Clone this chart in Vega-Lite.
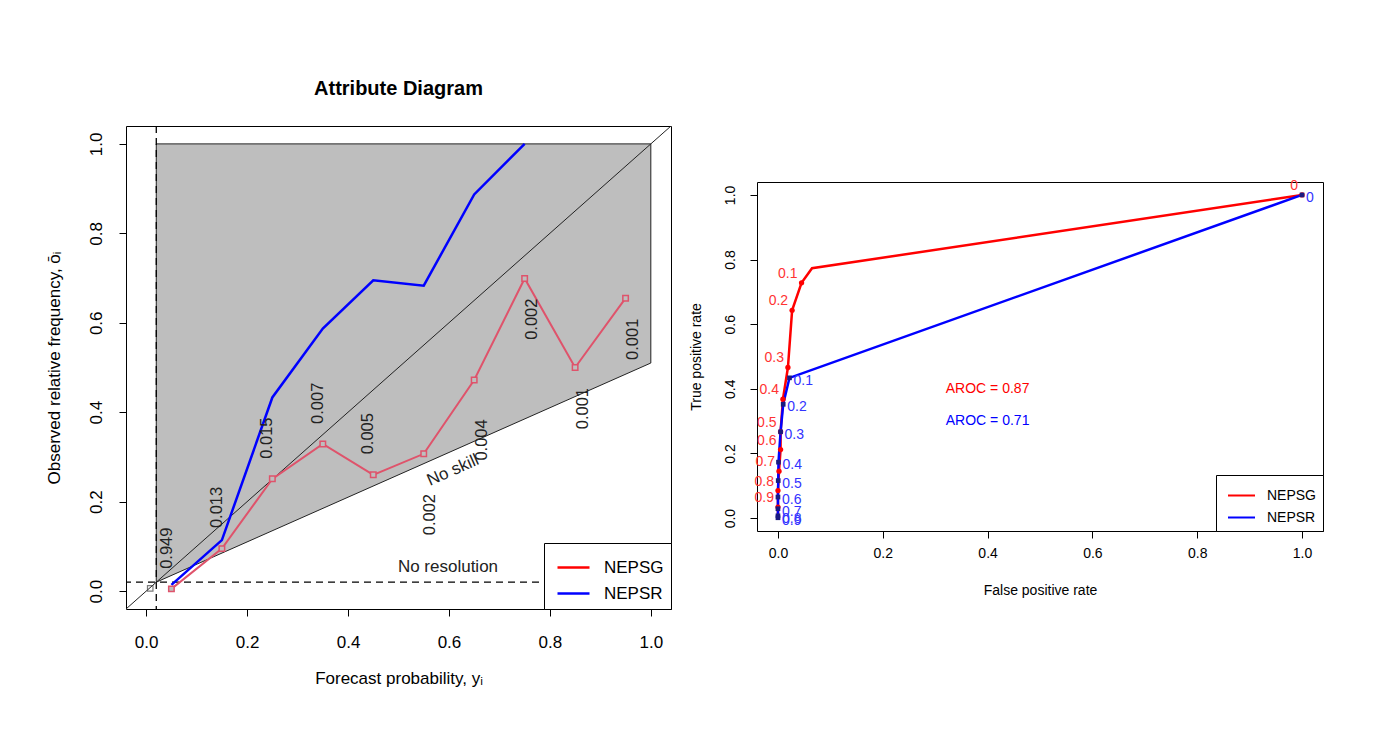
{
  "$schema": "https://vega.github.io/schema/vega-lite/v6.json",
  "padding": {"left": 44, "top": 78, "right": 0, "bottom": 0},
  "background": "white",
  "datasets": {
    "attr_area": [{"x": 0.02, "lo": 0.02, "hi": 1}, {"x": 1, "lo": 0.51, "hi": 1}],
    "attr_obar": [{"obar": 0.02}],
    "attr_diag": [{"x": -0.04, "y": -0.04}, {"x": 1.04, "y": 1.04}],
    "attr_nepsr": [
      {"series": "NEPSR", "x": 0.05, "y": 0.014},
      {"series": "NEPSR", "x": 0.15, "y": 0.114},
      {"series": "NEPSR", "x": 0.25, "y": 0.433},
      {"series": "NEPSR", "x": 0.35, "y": 0.587},
      {"series": "NEPSR", "x": 0.45, "y": 0.695},
      {"series": "NEPSR", "x": 0.55, "y": 0.683},
      {"series": "NEPSR", "x": 0.65, "y": 0.887},
      {"series": "NEPSR", "x": 0.75, "y": 1.0}
    ],
    "attr_nepsg": [
      {"x": 0.05, "y": 0.005},
      {"x": 0.15, "y": 0.095},
      {"x": 0.25, "y": 0.251},
      {"x": 0.35, "y": 0.329},
      {"x": 0.45, "y": 0.26},
      {"x": 0.55, "y": 0.307},
      {"x": 0.65, "y": 0.472},
      {"x": 0.75, "y": 0.699},
      {"x": 0.85, "y": 0.5},
      {"x": 0.95, "y": 0.655}
    ],
    "attr_first": [{"x": 0.008, "y": 0.006}],
    "attr_labels": [
      {"x": 0.041, "y": 0.096, "label": "0.949"},
      {"x": 0.14, "y": 0.187, "label": "0.013"},
      {"x": 0.239, "y": 0.342, "label": "0.015"},
      {"x": 0.34, "y": 0.42, "label": "0.007"},
      {"x": 0.44, "y": 0.352, "label": "0.005"},
      {"x": 0.562, "y": 0.171, "label": "0.002"},
      {"x": 0.665, "y": 0.338, "label": "0.004"},
      {"x": 0.764, "y": 0.608, "label": "0.002"},
      {"x": 0.866, "y": 0.408, "label": "0.001"},
      {"x": 0.965, "y": 0.563, "label": "0.001"}
    ],
    "attr_notes": [
      {"x": 0.598, "y": 0.054, "label": "No resolution"}
    ],
    "attr_noskill": [
      {"x": 0.608, "y": 0.27, "label": "No skill"}
    ],
    "roc": [
      {"series": "NEPSG", "i": 0, "fpr": 1, "tpr": 1, "thr": "0"},
      {"series": "NEPSG", "i": 1, "fpr": 0.065, "tpr": 0.773, "thr": null},
      {"series": "NEPSG", "i": 2, "fpr": 0.045, "tpr": 0.728, "thr": "0.1"},
      {"series": "NEPSG", "i": 3, "fpr": 0.027, "tpr": 0.643, "thr": "0.2"},
      {"series": "NEPSG", "i": 4, "fpr": 0.019, "tpr": 0.466, "thr": "0.3"},
      {"series": "NEPSG", "i": 5, "fpr": 0.0095, "tpr": 0.368, "thr": "0.4"},
      {"series": "NEPSG", "i": 6, "fpr": 0.005, "tpr": 0.267, "thr": "0.5"},
      {"series": "NEPSG", "i": 7, "fpr": 0.005, "tpr": 0.212, "thr": "0.6"},
      {"series": "NEPSG", "i": 8, "fpr": 0.002, "tpr": 0.145, "thr": "0.7"},
      {"series": "NEPSG", "i": 9, "fpr": 0.0, "tpr": 0.085, "thr": "0.8"},
      {"series": "NEPSG", "i": 10, "fpr": 0.0, "tpr": 0.034, "thr": "0.9"},
      {"series": "NEPSG", "i": 11, "fpr": 0.0, "tpr": 0.0, "thr": null},
      {"series": "NEPSR", "i": 0, "fpr": 1, "tpr": 1, "thr": "0"},
      {"series": "NEPSR", "i": 1, "fpr": 0.022, "tpr": 0.434, "thr": "0.1"},
      {"series": "NEPSR", "i": 2, "fpr": 0.01, "tpr": 0.352, "thr": "0.2"},
      {"series": "NEPSR", "i": 3, "fpr": 0.005, "tpr": 0.267, "thr": "0.3"},
      {"series": "NEPSR", "i": 4, "fpr": 0.001, "tpr": 0.173, "thr": "0.4"},
      {"series": "NEPSR", "i": 5, "fpr": 0.0005, "tpr": 0.116, "thr": "0.5"},
      {"series": "NEPSR", "i": 6, "fpr": 0.0, "tpr": 0.065, "thr": "0.6"},
      {"series": "NEPSR", "i": 7, "fpr": 0.0, "tpr": 0.029, "thr": "0.7"},
      {"series": "NEPSR", "i": 8, "fpr": 0.0, "tpr": 0.007, "thr": "0.8"},
      {"series": "NEPSR", "i": 9, "fpr": 0.0, "tpr": 0.001, "thr": "0.9"},
      {"series": "NEPSR", "i": 10, "fpr": 0.0, "tpr": 0.0, "thr": null}
    ],
    "aroc_g": [{"x": 0.4, "y": 0.4, "label": "AROC = 0.87"}],
    "aroc_r": [{"x": 0.4, "y": 0.3, "label": "AROC = 0.71"}]
  },
  "hconcat": [
    {
      "width": 545,
      "height": 483,
      "title": {"text": "Attribute Diagram", "fontSize": 20, "font": "Liberation Sans", "fontWeight": "bold", "frame": "group", "anchor": "middle", "baseline": "alphabetic", "offset": 10, "color": "black"},
      "view": {"stroke": "black", "strokeWidth": 1},
      "layer": [
        {
          "data": {"name": "attr_area"},
          "mark": {"type": "area", "fill": "#BEBEBE", "stroke": "#222222", "strokeWidth": 1, "clip": true},
          "encoding": {
            "x": {"field": "x", "type": "quantitative", "scale": {"domain": [-0.04, 1.04], "nice": false, "zero": false},
              "axis": {"values": [0, 0.2, 0.4, 0.6, 0.8, 1.0], "format": ".1f", "title": "Forecast probability, yᵢ", "labelFontSize": 17, "titleFontSize": 17, "labelBaseline": "middle", "labelPadding": 26, "titlePadding": 20, "titleBaseline": "top"}},
            "y": {"field": "lo", "type": "quantitative", "scale": {"domain": [-0.04, 1.04], "nice": false, "zero": false},
              "axis": {"values": [0, 0.2, 0.4, 0.6, 0.8, 1.0], "format": ".1f", "title": "Observed relative frequency, ōᵢ", "labelFontSize": 17, "titleFontSize": 17, "labelAngle": 270, "labelAlign": "center", "labelBaseline": "middle", "labelPadding": 23, "titlePadding": 24, "titleBaseline": "bottom"}},
            "y2": {"field": "hi"}
          }
        },
        {
          "data": {"name": "attr_obar"},
          "mark": {"type": "rule", "color": "black", "strokeWidth": 1.3, "strokeDash": [7, 5]},
          "encoding": {"x": {"field": "obar", "type": "quantitative", "scale": {"domain": [-0.04, 1.04], "nice": false, "zero": false}}}
        },
        {
          "data": {"name": "attr_obar"},
          "mark": {"type": "rule", "color": "black", "strokeWidth": 1.3, "strokeDash": [7, 5]},
          "encoding": {"y": {"field": "obar", "type": "quantitative", "scale": {"domain": [-0.04, 1.04], "nice": false, "zero": false}}}
        },
        {
          "data": {"name": "attr_diag"},
          "mark": {"type": "line", "color": "#222222", "strokeWidth": 1, "clip": true},
          "encoding": {
            "x": {"field": "x", "type": "quantitative", "scale": {"domain": [-0.04, 1.04], "nice": false, "zero": false}},
            "y": {"field": "y", "type": "quantitative", "scale": {"domain": [-0.04, 1.04], "nice": false, "zero": false}}
          }
        },
        {
          "data": {"name": "attr_nepsr"},
          "mark": {"type": "line", "strokeWidth": 2.5, "clip": true},
          "encoding": {
            "x": {"field": "x", "type": "quantitative", "scale": {"domain": [-0.04, 1.04], "nice": false, "zero": false}},
            "y": {"field": "y", "type": "quantitative", "scale": {"domain": [-0.04, 1.04], "nice": false, "zero": false}},
            "color": {"field": "series", "type": "nominal",
              "scale": {"domain": ["NEPSG", "NEPSR"], "range": ["#FF0000", "#0000FF"]},
              "legend": {"title": null, "orient": "bottom-right", "offset": 0, "symbolType": "stroke", "symbolSize": 1024, "symbolStrokeWidth": 2.5, "labelFontSize": 17, "labelFont": "Liberation Sans", "labelColor": "black", "strokeColor": "black", "fillColor": "white", "padding": 7, "rowPadding": -11, "symbolOffset": 5, "labelOffset": 13}}
          }
        },
        {
          "data": {"name": "attr_nepsg"},
          "mark": {"type": "line", "color": "#DF536B", "strokeWidth": 2, "clip": true},
          "encoding": {
            "x": {"field": "x", "type": "quantitative", "scale": {"domain": [-0.04, 1.04], "nice": false, "zero": false}},
            "y": {"field": "y", "type": "quantitative", "scale": {"domain": [-0.04, 1.04], "nice": false, "zero": false}}
          }
        },
        {
          "data": {"name": "attr_nepsg"},
          "mark": {"type": "point", "shape": "square", "size": 30, "filled": false, "stroke": "#DF536B", "strokeWidth": 1.5, "fill": "#BEBEBE", "fillOpacity": 1},
          "encoding": {
            "x": {"field": "x", "type": "quantitative", "scale": {"domain": [-0.04, 1.04], "nice": false, "zero": false}},
            "y": {"field": "y", "type": "quantitative", "scale": {"domain": [-0.04, 1.04], "nice": false, "zero": false}}
          }
        },
        {
          "data": {"name": "attr_first"},
          "mark": {"type": "point", "shape": "square", "size": 30, "filled": false, "stroke": "#444444", "strokeWidth": 1.2},
          "encoding": {
            "x": {"field": "x", "type": "quantitative", "scale": {"domain": [-0.04, 1.04], "nice": false, "zero": false}},
            "y": {"field": "y", "type": "quantitative", "scale": {"domain": [-0.04, 1.04], "nice": false, "zero": false}}
          }
        },
        {
          "data": {"name": "attr_labels"},
          "mark": {"type": "text", "angle": 270, "align": "center", "baseline": "middle", "fontSize": 16.5, "font": "Liberation Sans", "color": "#222222"},
          "encoding": {
            "x": {"field": "x", "type": "quantitative", "scale": {"domain": [-0.04, 1.04], "nice": false, "zero": false}},
            "y": {"field": "y", "type": "quantitative", "scale": {"domain": [-0.04, 1.04], "nice": false, "zero": false}},
            "text": {"field": "label"}
          }
        },
        {
          "data": {"name": "attr_notes"},
          "mark": {"type": "text", "align": "center", "baseline": "middle", "fontSize": 17, "font": "Liberation Sans", "color": "#222222"},
          "encoding": {
            "x": {"field": "x", "type": "quantitative", "scale": {"domain": [-0.04, 1.04], "nice": false, "zero": false}},
            "y": {"field": "y", "type": "quantitative", "scale": {"domain": [-0.04, 1.04], "nice": false, "zero": false}},
            "text": {"field": "label"}
          }
        },
        {
          "data": {"name": "attr_noskill"},
          "mark": {"type": "text", "align": "center", "baseline": "middle", "angle": 336, "fontSize": 17, "font": "Liberation Sans", "color": "#222222"},
          "encoding": {
            "x": {"field": "x", "type": "quantitative", "scale": {"domain": [-0.04, 1.04], "nice": false, "zero": false}},
            "y": {"field": "y", "type": "quantitative", "scale": {"domain": [-0.04, 1.04], "nice": false, "zero": false}},
            "text": {"field": "label"}
          }
        }
      ]
    },
    {
      "spacing": 0,
      "resolve": {"scale": {"color": "independent"}, "legend": {"color": "independent"}},
      "vconcat": [
        {
          "width": 566,
          "height": 52,
          "view": {"stroke": null},
          "data": {"values": []},
          "mark": "point"
        },
        {
          "width": 566,
          "height": 349,
          "view": {"stroke": "black", "strokeWidth": 1},
          "layer": [
            {
              "data": {"name": "roc"},
              "mark": {"type": "line", "strokeWidth": 2.5, "clip": true},
              "encoding": {
                "x": {"field": "fpr", "type": "quantitative", "scale": {"domain": [-0.04, 1.04], "nice": false, "zero": false},
                  "axis": {"values": [0, 0.2, 0.4, 0.6, 0.8, 1.0], "format": ".1f", "title": "False positive rate", "labelFontSize": 14, "titleFontSize": 14, "labelBaseline": "middle", "labelPadding": 15, "titlePadding": 23, "titleBaseline": "top"}},
                "y": {"field": "tpr", "type": "quantitative", "scale": {"domain": [-0.04, 1.04], "nice": false, "zero": false},
                  "axis": {"values": [0, 0.2, 0.4, 0.6, 0.8, 1.0], "format": ".1f", "title": "True positive rate", "labelFontSize": 14, "titleFontSize": 14, "labelAngle": 270, "labelAlign": "center", "labelBaseline": "middle", "labelPadding": 20, "titlePadding": 20, "titleBaseline": "bottom"}},
                "order": {"field": "i", "type": "quantitative"},
                "color": {"field": "series", "type": "nominal",
                  "scale": {"domain": ["NEPSG", "NEPSR"], "range": ["#FF0000", "#0000FF"]},
                  "legend": {"title": null, "orient": "bottom-right", "offset": 0, "symbolType": "stroke", "symbolSize": 729, "symbolStrokeWidth": 2, "labelFontSize": 14, "labelFont": "Liberation Sans", "labelColor": "black", "strokeColor": "black", "fillColor": "white", "padding": 6, "rowPadding": -10, "symbolOffset": 5, "labelOffset": 11}}
              }
            },
            {
              "data": {"name": "roc"},
              "transform": [{"filter": "datum.series == 'NEPSG' && datum.thr != null"}],
              "mark": {"type": "point", "shape": "circle", "filled": true, "size": 28, "color": "#FF0000", "opacity": 1},
              "encoding": {
                "x": {"field": "fpr", "type": "quantitative", "scale": {"domain": [-0.04, 1.04], "nice": false, "zero": false}},
                "y": {"field": "tpr", "type": "quantitative", "scale": {"domain": [-0.04, 1.04], "nice": false, "zero": false}}
              }
            },
            {
              "data": {"name": "roc"},
              "transform": [{"filter": "datum.series == 'NEPSR' && datum.thr != null"}],
              "mark": {"type": "point", "shape": "square", "filled": true, "size": 22, "color": "#1A1A80", "opacity": 1},
              "encoding": {
                "x": {"field": "fpr", "type": "quantitative", "scale": {"domain": [-0.04, 1.04], "nice": false, "zero": false}},
                "y": {"field": "tpr", "type": "quantitative", "scale": {"domain": [-0.04, 1.04], "nice": false, "zero": false}}
              }
            },
            {
              "data": {"name": "roc"},
              "transform": [{"filter": "datum.series == 'NEPSG' && datum.thr != null"}],
              "mark": {"type": "text", "align": "right", "baseline": "middle", "dx": -4, "dy": -9, "fontSize": 14, "font": "Liberation Sans", "color": "#FF3333"},
              "encoding": {
                "x": {"field": "fpr", "type": "quantitative", "scale": {"domain": [-0.04, 1.04], "nice": false, "zero": false}},
                "y": {"field": "tpr", "type": "quantitative", "scale": {"domain": [-0.04, 1.04], "nice": false, "zero": false}},
                "text": {"field": "thr"}
              }
            },
            {
              "data": {"name": "roc"},
              "transform": [{"filter": "datum.series == 'NEPSR' && datum.thr != null"}],
              "mark": {"type": "text", "align": "left", "baseline": "middle", "dx": 4, "dy": 3, "fontSize": 14, "font": "Liberation Sans", "color": "#3333FF"},
              "encoding": {
                "x": {"field": "fpr", "type": "quantitative", "scale": {"domain": [-0.04, 1.04], "nice": false, "zero": false}},
                "y": {"field": "tpr", "type": "quantitative", "scale": {"domain": [-0.04, 1.04], "nice": false, "zero": false}},
                "text": {"field": "thr"}
              }
            },
            {
              "data": {"name": "aroc_g"},
              "mark": {"type": "text", "align": "center", "baseline": "middle", "fontSize": 14, "font": "Liberation Sans", "color": "#FF0000"},
              "encoding": {
                "x": {"field": "x", "type": "quantitative", "scale": {"domain": [-0.04, 1.04], "nice": false, "zero": false}},
                "y": {"field": "y", "type": "quantitative", "scale": {"domain": [-0.04, 1.04], "nice": false, "zero": false}},
                "text": {"field": "label"}
              }
            },
            {
              "data": {"name": "aroc_r"},
              "mark": {"type": "text", "align": "center", "baseline": "middle", "fontSize": 14, "font": "Liberation Sans", "color": "#0000FF"},
              "encoding": {
                "x": {"field": "x", "type": "quantitative", "scale": {"domain": [-0.04, 1.04], "nice": false, "zero": false}},
                "y": {"field": "y", "type": "quantitative", "scale": {"domain": [-0.04, 1.04], "nice": false, "zero": false}},
                "text": {"field": "label"}
              }
            }
          ]
        }
      ]
    }
  ],
  "spacing": 15,
  "resolve": {"scale": {"color": "independent", "x": "independent", "y": "independent"}, "legend": {"color": "independent"}},
  "config": {
    "font": "Liberation Sans",
    "axis": {"grid": false, "domain": false, "tickColor": "black", "tickSize": 7, "tickWidth": 1, "labelColor": "black", "titleColor": "black", "labelFont": "Liberation Sans", "titleFont": "Liberation Sans", "titleFontWeight": "normal"}
  }
}
